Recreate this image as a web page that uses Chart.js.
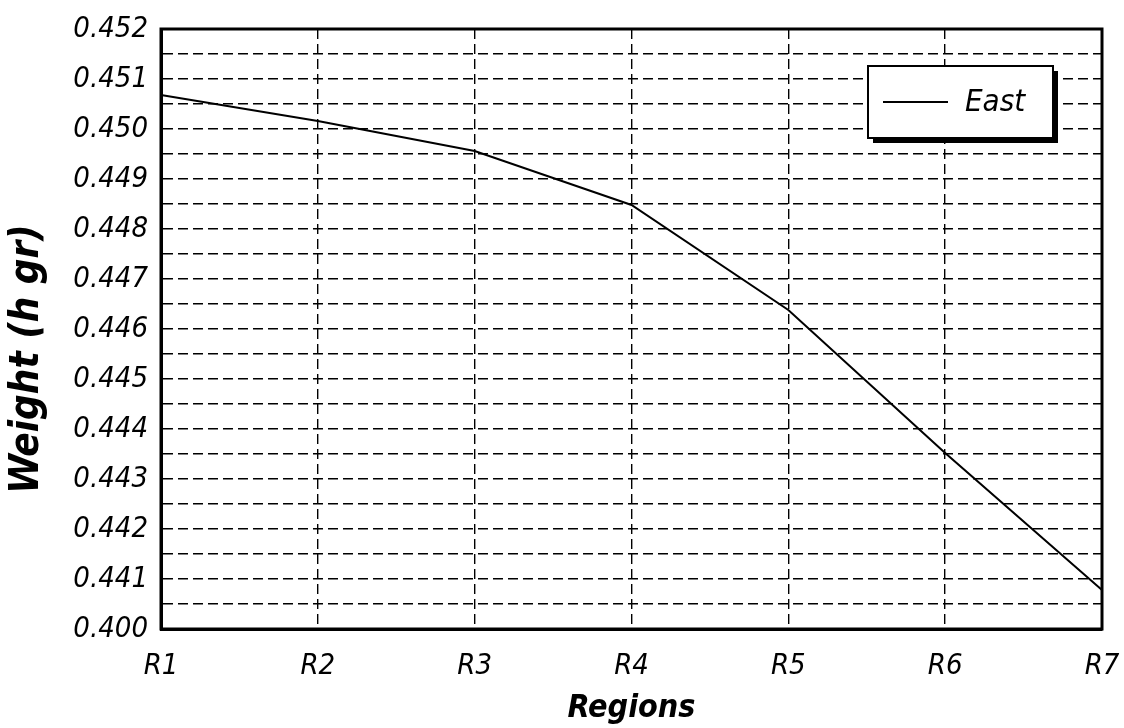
<!DOCTYPE html>
<html lang="en">
<head>
    <meta charset="UTF-8">
    <title>Weight by Region</title>
    <script src="https://cdn.jsdelivr.net/npm/chart.js"></script>
    <style>
        body, html {
            margin: 0;
            padding: 0;
            background: white;
        }
        .chart-container {
            width: 1124px;
            height: 728px;
        }
    </style>
</head>
<body>
<div class="chart-container">
    <canvas id="weightChart"></canvas>
</div>

<script>
    // Data
    const regions = ['R1', 'R2', 'R3', 'R4', 'R5', 'R6', 'R7'];
    const eastWeights = [0.45068, 0.45016, 0.44956, 0.44848, 0.44638, 0.44352, 0.44078];
    // Labels on the major ticks, bottom to top (the bottom one reads 0.400 in the original)
    const yTickLabels = ['0.400', '0.441', '0.442', '0.443', '0.444', '0.445', '0.446',
                         '0.447', '0.448', '0.449', '0.450', '0.451', '0.452'];
    const yTitle = 'Weight (h gr)';

    const FONT = "'Liberation Sans Narrow', 'DejaVu Sans Condensed', 'Roboto Condensed', 'Liberation Sans', Arial, sans-serif";

    // Frame round the plot area, the y title (sits a bit below centre in the original)
    // and the boxed legend with its drop shadow
    const framePlugin = {
        id: 'frame',
        afterDraw(chart) {
            const { ctx, chartArea: a } = chart;
            ctx.save();
            ctx.strokeStyle = '#000';
            ctx.lineWidth = 3;
            ctx.strokeRect(a.left, a.top, a.right - a.left, a.bottom - a.top);

            // y axis title
            ctx.save();
            ctx.translate(28, 359);
            ctx.rotate(-Math.PI / 2);
            ctx.fillStyle = '#000';
            ctx.font = 'italic bold 40px ' + FONT;
            ctx.textAlign = 'center';
            ctx.textBaseline = 'middle';
            ctx.fillText(yTitle, 0, 0);
            ctx.restore();

            // legend box
            const bx = 868, by = 66, bw = 185, bh = 72;
            ctx.fillStyle = '#000';
            ctx.fillRect(bx + 5, by + 5, bw, bh);
            ctx.fillStyle = '#fff';
            ctx.fillRect(bx, by, bw, bh);
            ctx.lineWidth = 2;
            ctx.strokeRect(bx, by, bw, bh);

            const ds = chart.data.datasets[0];
            ctx.strokeStyle = ds.borderColor;
            ctx.lineWidth = ds.borderWidth;
            ctx.beginPath();
            ctx.moveTo(bx + 15, by + 36);
            ctx.lineTo(bx + 80, by + 36);
            ctx.stroke();

            ctx.fillStyle = '#000';
            ctx.font = 'italic 31px ' + FONT;
            ctx.textBaseline = 'middle';
            ctx.textAlign = 'left';
            ctx.fillText(ds.label, bx + 97, by + 37);
            ctx.restore();
        }
    };

    const ctx = document.getElementById('weightChart').getContext('2d');
    const weightChart = new Chart(ctx, {
        type: 'line',
        data: {
            labels: regions,
            datasets: [{
                label: 'East',
                data: eastWeights,
                borderColor: '#000',
                borderWidth: 2,
                pointRadius: 0,
                tension: 0,
                fill: false
            }]
        },
        options: {
            responsive: true,
            maintainAspectRatio: false,
            animation: false,
            layout: {
                padding: { top: 29, right: 22, left: 0, bottom: 0 }
            },
            scales: {
                x: {
                    offset: false,
                    grid: {
                        color: '#000',
                        lineWidth: 1.4,
                        drawTicks: false
                    },
                    border: { display: true, color: '#000', width: 3, dash: [10, 5] },
                    ticks: {
                        color: '#000',
                        padding: 20,
                        maxRotation: 0,
                        font: { family: FONT, size: 29, style: 'italic' }
                    },
                    title: {
                        display: true,
                        text: 'Regions',
                        color: '#000',
                        padding: { top: 0, bottom: 0 },
                        font: { family: FONT, size: 32, style: 'italic', weight: 'bold' }
                    },
                    afterFit(scale) {
                        scale.height = 99;
                        scale.paddingLeft = 0;
                        scale.paddingRight = 0;
                    }
                },
                y: {
                    min: 0.440,
                    max: 0.452,
                    grid: {
                        color: '#000',
                        lineWidth: 1.4,
                        drawTicks: false
                    },
                    border: { display: true, color: '#000', width: 3, dash: [10, 5] },
                    ticks: {
                        stepSize: 0.0005,
                        color: '#000',
                        padding: 13,
                        autoSkip: false,
                        font: { family: FONT, size: 29, style: 'italic' },
                        callback: function (value, index) {
                            return index % 2 === 0 ? yTickLabels[index / 2] : '';
                        }
                    },
                    afterFit(scale) {
                        scale.width = 161;
                        scale.paddingTop = 0;
                        scale.paddingBottom = 0;
                    }
                }
            },
            plugins: {
                legend: { display: false },
                tooltip: { enabled: false }
            }
        },
        plugins: [framePlugin]
    });
</script>
</body>
</html>
